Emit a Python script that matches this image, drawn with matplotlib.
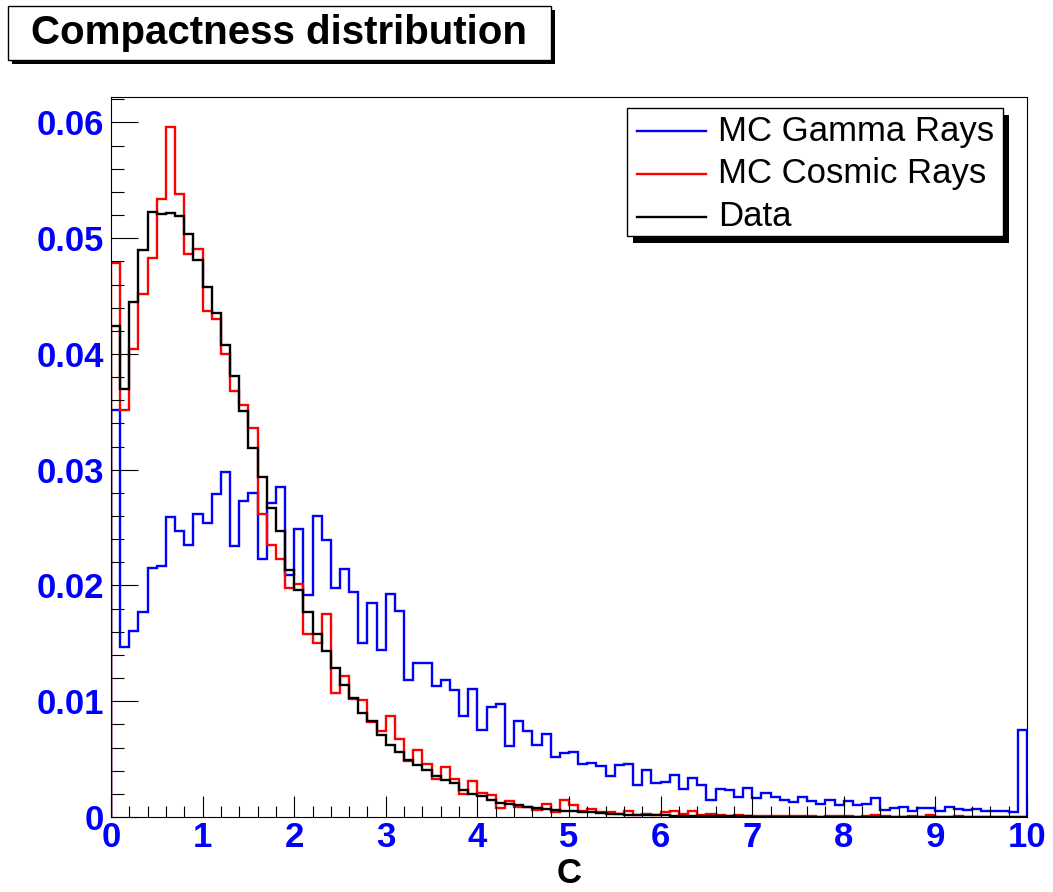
import numpy as np
import matplotlib.pyplot as plt
from matplotlib.patches import Rectangle
from matplotlib.lines import Line2D
from matplotlib.ticker import FuncFormatter

# 100 bins of compactness C between 0 and 10
edges = np.linspace(0, 10, 101)

gamma = [0.0352, 0.0147, 0.0161, 0.0177, 0.0215, 0.0217, 0.0259, 0.0247, 0.0235, 0.0262,
         0.0254, 0.0279, 0.0298, 0.0234, 0.0273, 0.0280, 0.0223, 0.0271, 0.0285, 0.0209,
         0.0249, 0.0192, 0.0260, 0.0239, 0.0198, 0.0214, 0.0194, 0.0150, 0.0185, 0.0144,
         0.0193, 0.0178, 0.0118, 0.0133, 0.0133, 0.0113, 0.0118, 0.0110, 0.0087, 0.0111,
         0.0075, 0.0095, 0.0098, 0.0061, 0.0083, 0.0074, 0.0062, 0.0072, 0.0052, 0.0055,
         0.0056, 0.0046, 0.0047, 0.0044, 0.0035, 0.0045, 0.0046, 0.0028, 0.0041, 0.0029,
         0.0030, 0.0036, 0.0024, 0.0034, 0.0028, 0.0015, 0.0024, 0.0023, 0.0017, 0.0025,
         0.0016, 0.0021, 0.0017, 0.0015, 0.0013, 0.0017, 0.0014, 0.0011, 0.0015, 0.0010,
         0.0014, 0.0010, 0.0011, 0.0016, 0.0006, 0.0008, 0.0009, 0.0005, 0.0008, 0.0008,
         0.0005, 0.0009, 0.0007, 0.0006, 0.0007, 0.0005, 0.0005, 0.0005, 0.0004, 0.0075]

cosmic = [0.0479, 0.0352, 0.0404, 0.0452, 0.0483, 0.0534, 0.0596, 0.0538, 0.0486, 0.0491,
          0.0437, 0.0430, 0.0400, 0.0368, 0.0356, 0.0336, 0.0262, 0.0235, 0.0223, 0.0198,
          0.0201, 0.0158, 0.0150, 0.0175, 0.0107, 0.0122, 0.0102, 0.0101, 0.0082, 0.0074,
          0.0087, 0.0067, 0.0048, 0.0058, 0.0046, 0.0033, 0.0043, 0.0033, 0.0020, 0.0031,
          0.0021, 0.0019, 0.0008, 0.0014, 0.0009, 0.0009, 0.0006, 0.0011, 0.0004, 0.0015,
          0.0010, 0.0005, 0.0007, 0.0004, 0.0004, 0.0003, 0.0005, 0.0002, 0.0003, 0.0002,
          0.0004, 0.0005, 0.0003, 0.0005, 0.0002, 0.0003, 0.0002, 0.0001, 0.0002, 0.0001,
          0.0001, 0.0001, 0.0001, 0.0001, 0.0001, 0.0001, 0.0001, 0.0, 0.0001, 0.0001,
          0.0001, 0.0, 0.0001, 0.0002, 0.0001, 0.0, 0.0, 0.0001, 0.0, 0.0002,
          0.0, 0.0, 0.0001, 0.0, 0.0, 0.0, 0.0, 0.0, 0.0, 0.0]

data = [0.0424, 0.0370, 0.0445, 0.0490, 0.0523, 0.0521, 0.0522, 0.0519, 0.0504, 0.0481,
        0.0458, 0.0435, 0.0408, 0.0381, 0.0351, 0.0319, 0.0294, 0.0267, 0.0247, 0.0213,
        0.0196, 0.0177, 0.0158, 0.0143, 0.0129, 0.0114, 0.0103, 0.0090, 0.0083, 0.0071,
        0.0062, 0.0056, 0.0049, 0.0045, 0.0041, 0.0035, 0.0032, 0.0029, 0.0023, 0.0020,
        0.0018, 0.0015, 0.0012, 0.0011, 0.0010, 0.0009, 0.00075, 0.0007, 0.0006, 0.00055,
        0.0005, 0.00045, 0.0004, 0.00035, 0.0003, 0.00025, 0.0002, 0.0002, 0.00018, 0.00016,
        0.00014, 0.00012, 0.0001, 0.0001, 0.00009, 0.00008, 0.00007, 0.00006, 0.00005, 0.00005,
        0.00004, 0.00004, 0.00003, 0.00003, 0.00003, 0.00002, 0.00002, 0.00002, 0.00002, 0.00001,
        0.00001, 0.00001, 0.00001, 0.00001, 0.00001, 0.00001, 0.0, 0.0, 0.0, 0.0,
        0.0, 0.0, 0.0, 0.0, 0.0, 0.0, 0.0, 0.0, 0.0, 0.0]

labels = ["MC Gamma Rays", "MC Cosmic Rays", "Data"]
colors = ["#0000ff", "#ff0000", "#000000"]

plt.rcParams['font.family'] = ['Liberation Sans', 'DejaVu Sans']

W, H = 1053, 892
fig = plt.figure(figsize=(W / 100, H / 100), dpi=100)

def fx(px):
    return px / W

def fy(py):
    return 1 - py / H

ax = fig.add_axes([fx(111), fy(817), (1027 - 111) / W, (817 - 97) / H])
for vals, c in zip([gamma, cosmic, data], colors):
    ax.stairs(vals, edges, color=c, lw=1.7, baseline=0)

ax.set_xlim(0, 10)
ax.set_ylim(0, 0.0622)
ax.set_xticks(range(11))
ax.set_xticks(np.arange(0, 10.01, 0.2), minor=True)
ax.set_yticks(np.arange(0, 0.0601, 0.01))
ax.set_yticks(np.arange(0, 0.0621, 0.002), minor=True)
ax.yaxis.set_major_formatter(FuncFormatter(lambda v, _: "0" if abs(v) < 1e-9 else f"{v:.2f}"))
ax.tick_params(which='both', direction='in', top=False, right=False, width=0.8,
               labelcolor='#0000ff', labelsize=25)
ax.tick_params(axis='x', which='major', length=15, pad=3)
ax.tick_params(axis='x', which='minor', length=7.7)
ax.tick_params(axis='y', which='major', length=19.4, pad=5)
ax.tick_params(axis='y', which='minor', length=9.4)
for lab in ax.get_xticklabels() + ax.get_yticklabels():
    lab.set_fontweight('bold')
for sp in ax.spines.values():
    sp.set_linewidth(0.8)
ax.set_xlabel("C", fontsize=25, fontweight='bold', labelpad=2)

# title box with drop shadow
fig.patches.append(Rectangle((fx(12), fy(64)), (551 - 8) / W, (60 - 6) / H,
                             transform=fig.transFigure, facecolor='black', edgecolor='none'))
fig.patches.append(Rectangle((fx(8), fy(60)), (551 - 8) / W, (60 - 6) / H,
                             transform=fig.transFigure, facecolor='white', edgecolor='black', lw=1))
fig.text(fx(279), fy(33), "Compactness distribution", fontsize=29, fontweight='bold',
         ha='center', va='center')

# legend box with drop shadow
fig.patches.append(Rectangle((fx(633), fy(243)), (1003 - 627) / W, (236 - 108) / H,
                             transform=fig.transFigure, facecolor='black', edgecolor='none', zorder=5))
fig.patches.append(Rectangle((fx(627), fy(236)), (1003 - 627) / W, (236 - 108) / H,
                             transform=fig.transFigure, facecolor='white', edgecolor='black', lw=1, zorder=6))
for i, (lab, c) in enumerate(zip(labels, colors)):
    yrow = 131 + 43 * i
    fig.lines.append(Line2D([fx(637), fx(706)], [fy(yrow), fy(yrow)], color=c, lw=1.7,
                            transform=fig.transFigure, zorder=7))
    fig.text(fx(718), fy(yrow), lab, fontsize=25, ha='left', va='center', zorder=7)

fig.savefig("out.png", dpi=100)
